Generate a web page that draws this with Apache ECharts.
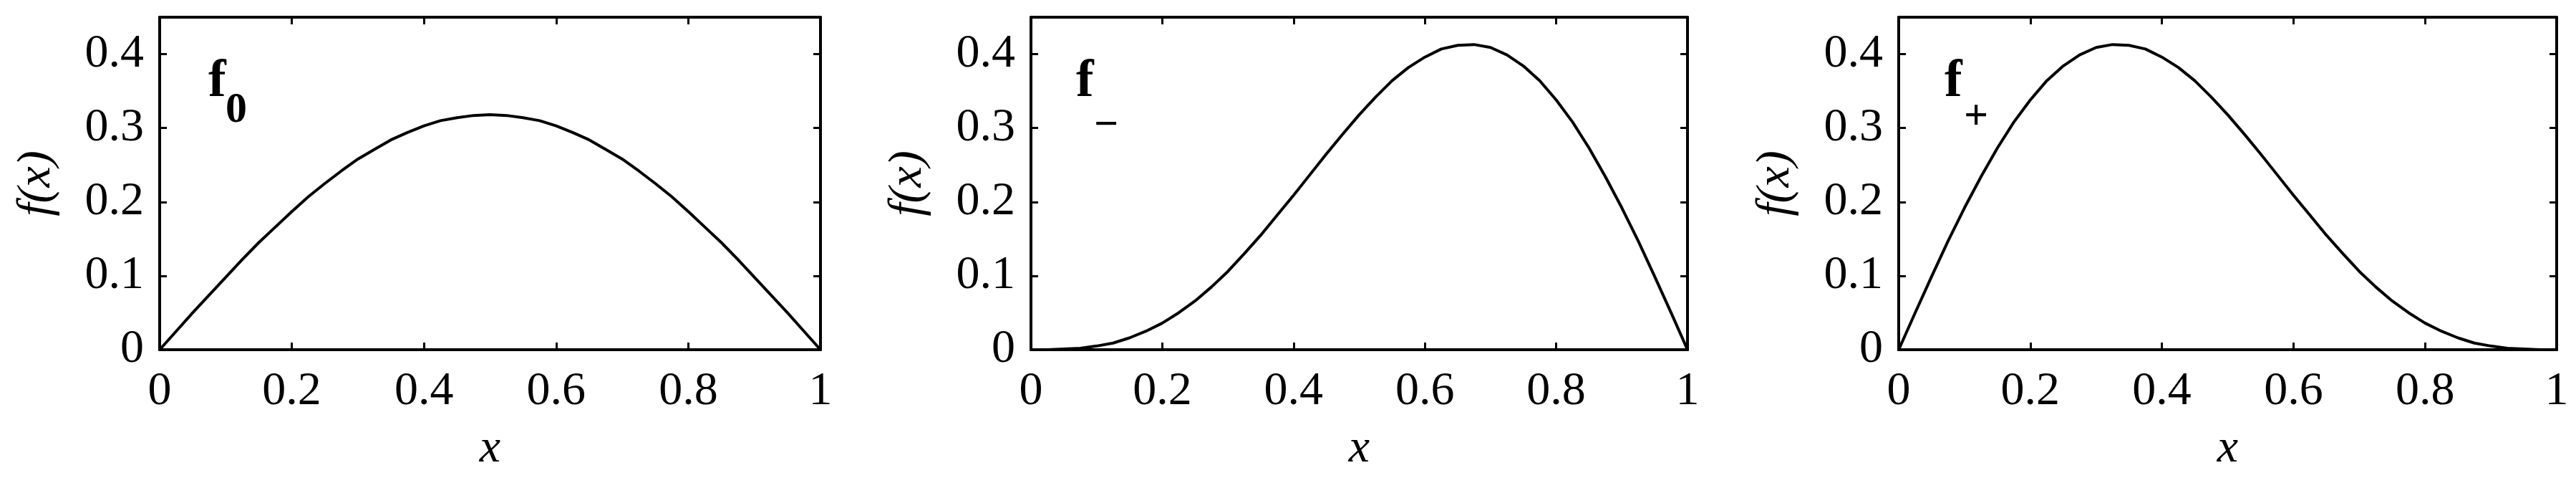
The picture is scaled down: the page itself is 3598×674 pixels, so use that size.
<!DOCTYPE html>
<html>
<head>
<meta charset="utf-8">
<script src="https://cdn.jsdelivr.net/npm/echarts@6/dist/echarts.min.js"></script>
<style>
html,body{margin:0;padding:0;background:#fff;}
#chart{width:3598px;height:674px;}
</style>
</head>
<body>
<div id="chart"></div>
<script>
// ---- data ----
const xValues = [0,0.025,0.05,0.075,0.1,0.125,0.15,0.175,0.2,0.225,0.25,0.275,0.3,0.325,0.35,0.375,0.4,0.425,0.45,0.475,0.5,
  0.525,0.55,0.575,0.6,0.625,0.65,0.675,0.7,0.725,0.75,0.775,0.8,0.825,0.85,0.875,0.9,0.925,0.95,0.975,1];
const f0Values = [0,0.025,0.050,0.074,0.098,0.122,0.145,0.166,0.187,0.207,0.225,0.242,0.258,0.271,0.284,0.294,0.303,0.310,0.314,0.317,0.318,
  0.317,0.314,0.310,0.303,0.294,0.284,0.271,0.258,0.242,0.225,0.207,0.187,0.166,0.145,0.122,0.098,0.074,0.050,0.025,0];
const fMinusValues = [0,0.000,0.001,0.002,0.005,0.009,0.016,0.025,0.036,0.050,0.066,0.085,0.106,0.130,0.155,0.182,0.209,0.237,0.265,0.292,0.318,
  0.342,0.364,0.382,0.396,0.407,0.412,0.413,0.409,0.399,0.384,0.364,0.338,0.308,0.273,0.234,0.192,0.147,0.099,0.050,0];
const fPlusValues = [0,0.050,0.099,0.147,0.192,0.234,0.273,0.308,0.338,0.364,0.384,0.399,0.409,0.413,0.412,0.407,0.396,0.382,0.364,0.342,0.318,
  0.292,0.265,0.237,0.209,0.182,0.155,0.130,0.106,0.085,0.066,0.050,0.036,0.025,0.016,0.009,0.005,0.002,0.001,0.000,0];
const xTicks = [0,0.2,0.4,0.6,0.8,1];
const yTicks = [0,0.1,0.2,0.3,0.4];
const panelSubscripts = ['0','\u2212','+'];
const panelSeries = [f0Values, fMinusValues, fPlusValues];
const xAxisName = 'x';
const yAxisName = 'f(x)';

// ---- layout ----
const panels = [
  {left:223, width:923},
  {left:1440, width:917},
  {left:2652, width:919}
];
const gridTop = 24, gridHeight = 464;
const FONT = 'Liberation Serif';
const AX = {lineStyle:{color:'#000', width:4}};
const TICK = {show:true, inside:true, length:10, lineStyle:{color:'#000', width:3}};

const grids=[], xAxes=[], yAxes=[], series=[], graphics=[];
panels.forEach((p,i)=>{
  grids.push({left:p.left, top:gridTop, width:p.width, height:gridHeight, containLabel:false});
  xAxes.push({type:'value', gridIndex:i, position:'bottom', min:0, max:1, interval:0.2,
    axisLine:{show:true, onZero:false, ...AX}, axisTick:TICK, splitLine:{show:false},
    axisLabel:{show:true, margin:26, fontFamily:FONT, fontSize:66, color:'#000',
      formatter:v=>xTicks.includes(+v.toFixed(2)) ? String(+v.toFixed(2)) : ''},
    name:xAxisName, nameLocation:'middle', nameGap:106,
    nameTextStyle:{fontFamily:FONT, fontSize:66, fontStyle:'italic', color:'#000'}});
  xAxes.push({type:'value', gridIndex:i, position:'top', min:0, max:1, interval:0.2,
    axisLine:{show:true, onZero:false, ...AX}, axisTick:TICK, splitLine:{show:false},
    axisLabel:{show:false}});
  yAxes.push({type:'value', gridIndex:i, position:'left', min:0, max:0.45, interval:0.1,
    axisLine:{show:true, onZero:false, ...AX}, axisTick:TICK, splitLine:{show:false},
    axisLabel:{show:true, margin:22, showMaxLabel:false, fontFamily:FONT, fontSize:66, color:'#000',
      formatter:v=>yTicks.includes(+v.toFixed(2)) ? String(+v.toFixed(2)) : ''},
    name:yAxisName, nameLocation:'middle', nameGap:138,
    nameTextStyle:{fontFamily:FONT, fontSize:66, fontStyle:'italic', color:'#000'}});
  yAxes.push({type:'value', gridIndex:i, position:'right', min:0, max:0.45, interval:0.1,
    axisLine:{show:true, onZero:false, ...AX}, axisTick:TICK, splitLine:{show:false},
    axisLabel:{show:false}});
  series.push({type:'line', xAxisIndex:2*i, yAxisIndex:2*i, showSymbol:false, symbol:'none',
    smooth:false, clip:false,
    lineStyle:{color:'#000', width:4, join:'round', cap:'round'}, data:xValues.map((x,k)=>[x, panelSeries[i][k]])});
  const fOff = [68,63,64][i], sOff = [92,88,91][i];
  graphics.push({type:'text', left:p.left+fOff, top:78, style:{text:'f', font:'bold 74px Liberation Serif', fill:'#000'}});
  graphics.push({type:'text', left:p.left+sOff, top:[124,146,134][i],
    style:{text:panelSubscripts[i], font:'bold 60px Liberation Serif', fill:'#000'}});
});

const chart = echarts.init(document.getElementById('chart'), null, {renderer:'canvas'});
chart.setOption({
  animation:false,
  backgroundColor:'#fff',
  grid:grids, xAxis:xAxes, yAxis:yAxes, series:series, graphic:graphics
});
</script>
</body>
</html>
